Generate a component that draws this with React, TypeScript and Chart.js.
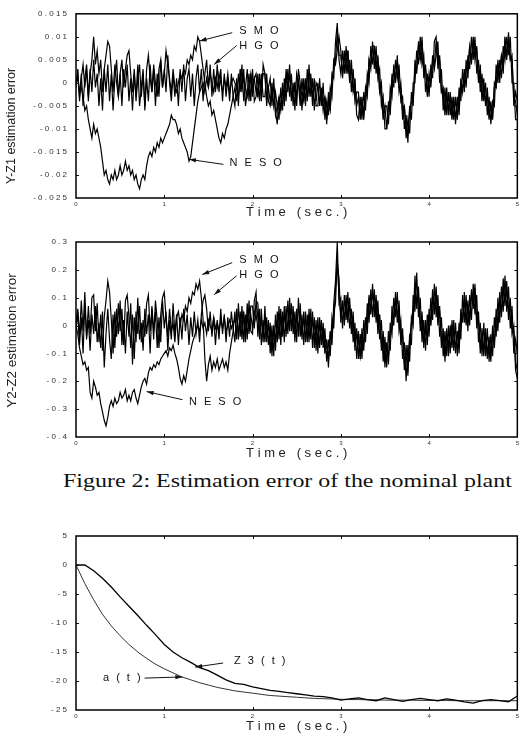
import React, { useEffect, useRef } from "react";
import { Chart, registerables } from "chart.js";

Chart.register(...registerables);

const FONT = "'Liberation Sans', Arial, Helvetica, sans-serif";

// ---------- sampling steps (seconds) ----------
const DT_NOISY = 0.02;
const DT_SMOOTH = 0.1;

// ---------- Plot 1: Y-Z1 estimation error (values in units of 0.001) ----------
const P1_SMO = [
  0, 2, -3, 1, 4, -1, 3, -4, 2, 5,
  10, 4, 7, 2, 5, -2, 3, 6, 9, 8,
  3, -2, 4, 0, -3, 2, 5, -1, 3, 6,
  7, 2, -2, 3, -4, 1, 4, -3, 2, -5,
  3, 6, 1, -2, 4, 0, -3, 3, 5, -1,
  2, 7, 4, 1, -2, 3, -1, -2, 0, 2,
  1, 3, 2, 5, 4, 6, 5, 8, 7, 10,
  9, 6, 3, 0, -3, -5, -4, -7, -6, -8,
  -10, -12, -13, -11, -12, -10, -9, -7, -5, -3,
  -1, -4, 2, -2, 4, -4, -1, 3, -4, 2,
  -3, 1, 2, -3, 2, -4, 4, 2, -5, -1,
  1, -5, 1, -6, -9, -3, -6, 0, -5, 3,
  -2, 4, -4, 0, -6, 2, 0, -5, 1, -4,
  1, -4, 4, -3, 1, -6, 0, -1, -5, -1,
  -6, -3, -9, -2, -6, 2, 1, 9, 13, 5,
  2, 7, 2, 8, 2, 5, -2, 3, -4, -2,
  -2, -8, -3, -8, -1, -3, 5, 3, 9, 3,
  8, 1, 3, -5, -3, -10, -10, -4, -7, 2,
  -1, 5, 1, 4, -4, -3, -10, -7, -13, -5,
  -8, 0, 0, 7, 4, 10, 4, 6, -2, 2,
  -3, 4, 1, 9, 10, 3, 6, -2, -1, -7,
  -1, -7, -2, -8, -3, -9, -3, -7, 1, -2,
  3, -1, 6, 3, 10, 5, 10, 2, 5, -2,
  2, -4, 0, -7, -3, -9, -4, -5, 4, 0,
  5, 1, 8, 5, 10, 6, 10, 0, 0, -8, -8,
];
const P1_HGO = [
  -1, 3, -4, 2, -5, 1, 4, -3, 3, -2,
  5, -1, 2, -5, 1, -6, 3, -2, 4, -4,
  2, -6, 1, 5, -3, 2, -5, 3, -1, 4,
  -4, 1, -6, 2, -3, 4, -5, -1, 3, -6,
  1, -4, 4, -2, 3, -5, 2, -3, 5, -1,
  3, -2, 6, 0, -4, 2, -3, 1, -5, 3,
  -2, 4, -4, 1, 3, -3, 2, -5, 1, 4,
  -2, 3, -4, 2, 5, -1, 4, -3, 3, -2,
  4, -2, 3, -4, 2, -3, 1, -4, 2, -3,
  -5, 1, -5, 3, -2, 3, -5, -2, 2, -4,
  3, -4, -3, 2, -4, 2, -3, -3, 2, -4,
  -5, 0, -5, -2, -5, -8, -1, -6, 1, -4,
  3, -3, 2, -5, 0, -5, 3, 0, -6, 1,
  -5, 3, -3, 2, -5, 1, -5, -5, 1, -5,
  0, -8, -4, -7, -1, -3, 5, 4, 7, 10,
  7, 1, 7, 2, 7, 0, 5, -2, 1, -7,
  -8, -3, -8, -2, -6, 2, 0, 8, 4, 8,
  2, 6, -2, 0, -8, -5, -5, -9, -1, -3,
  4, 0, 6, -2, 0, -8, -5, -12, -8, -11,
  -2, -5, 5, 2, 9, 5, 10, 1, 4, -3,
  2, -1, 6, 3, 6, 9, 0, 3, -6, -1,
  -7, -2, -7, -3, -8, -3, -8, -1, -4, 3,
  -2, 5, 1, 8, 4, 10, 5, 8, 0, 4,
  -4, 1, -5, -1, -8, -4, -8, 0, -1, 5,
  0, 6, 2, 10, 5, 11, 5, 6, -5, -2, -4,
];
const P1_NESO = [
  0, 1, -2, -1, -3, -6, -5, -8, -10, -12,
  -9, -11, -10, -12, -14, -17, -20, -19, -21, -22,
  -20, -21, -19, -21, -20, -18, -20, -19, -17, -19,
  -18, -20, -19, -21, -20, -22, -23, -21, -20, -21,
  -18, -16, -15, -16, -14, -15, -13, -14, -12, -13,
  -12, -11, -10, -9, -7, -8, -8, -9, -11, -10,
  -12, -13, -14, -15, -17, -16, -13, -10, -7, -4,
  -2, -1, 0, -2, 1, -1, 2, 0, -2, 1,
  -1, 2, 0, -2, 1, -1, 2, -2, 0, 1,
  0, -1, -3, 2, -1, 1, -1, -3, -1, 2,
  -1, 1, -2, -3, 1, -1, 2, 2, -3, -1,
  -4, -2, -1, -7, -5, -3, -6, -2, -3, 1,
  -1, 2, -3, -1, 0, -3, 1, -3, -2, -4,
  0, -3, 1, 1, -3, 0, -4, 0, -4, -2,
  -4, -3, -8, -4, -6, 1, 3, 5, 11, 6,
  6, 2, 6, 4, 7, 1, 3, -2, 0, -5,
  -3, -7, -4, -7, -2, -2, 5, 4, 8, 8,
  4, 5, -2, -2, -7, -5, -10, -5, -6, 1,
  2, 1, 5, -1, -1, -6, -5, -10, -11, -6,
  -4, -4, 3, 3, 8, 5, 9, 3, 3, -2,
  1, 0, 5, 4, 9, 5, 5, -2, -2, -6,
  -3, -6, -3, -7, -4, -8, -4, -5, 0, -1,
  0, 3, 3, 8, 5, 9, 6, 7, 1, 2,
  -3, -1, -4, -3, -7, -5, -7, -1, -1, 3,
  2, 6, 4, 9, 6, 9, 5, 5, -3, -4, -7,
];
const P1_Y_TICKS = [15, 10, 5, 0, -5, -10, -15, -20, -25];
const P1_Y_LABELS = [
  "0 . 0 1 5", "0 . 0 1", "0 . 0 0 5", "0", "- 0 . 0 0 5", "- 0 . 0 1", "- 0 . 0 1 5", "- 0 . 0 2", "- 0 . 0 2 5",
];

// ---------- Plot 2: Y2-Z2 estimation error (values in units of 0.01) ----------
const P2_SMO = [
  0, 6, -4, 9, -2, 12, -5, 7, -3, 10,
  11, -2, 8, -6, 4, -9, 3, 9, 16, 12,
  2, -10, 5, -4, 8, -2, 6, -7, 9, 11,
  3, -8, 4, -12, 5, -3, 7, -6, 2, -4,
  8, 11, -2, 6, -5, 9, 2, -8, 4, 10,
  12, 3, -4, 6, -2, 1, -6, 3, 5, 0,
  4, 2, 7, 5, 10, 8, 12, 11, 15, 13,
  16, 10, 2, -12, -20, -14, -11, -16, -13, -15,
  -12, -16, -14, -12, -15, -13, -16, -10, -6, -2,
  5, -5, 8, -4, 7, -6, 4, -5, 9, -2,
  -3, 9, 12, -4, 6, -7, 2, -6, 3, -7,
  1, -11, 0, -9, 5, -5, 6, -4, 7, -4,
  9, -2, 8, -3, 5, -6, 10, -4, 4, -7,
  5, -6, 6, -5, 5, -8, 2, -10, 3, -7,
  1, -10, -5, -15, -2, -7, 8, 16, 30, 8,
  10, -1, 11, 2, 12, -1, 6, -6, 1, -12,
  -2, -12, -1, -9, 3, -3, 11, 4, 15, 3,
  11, -3, 4, -9, -2, -15, -6, -14, 1, -3,
  10, 3, 12, -2, 2, -12, -6, -20, -7, -13,
  3, 0, 18, 6, 14, -2, 5, -8, 2, -7,
  6, 0, 13, 4, 14, 0, 7, -8, -1, -13,
  -1, -11, 0, -8, 2, -10, -2, -10, 6, 1,
  12, 0, 9, 0, 13, 6, 15, -1, 5, -10,
  -1, -11, -1, -12, -4, -13, 0, -8, 6, -2,
  12, 3, 17, 7, 16, 2, 10, -3, 0, -16, -19,
];
const P2_HGO = [
  -2, 5, -7, 3, -10, 8, -4, 2, -9, 4,
  -3, 7, -6, 1, -8, 5, -15, -3, 6, -5,
  -12, 4, -8, 6, -3, 9, -7, 2, -10, 5,
  -4, 8, -14, 3, -6, 10, -5, 1, -9, 6,
  -3, 4, -10, 7, -2, 5, -8, 3, -6, 9,
  -1, 5, -9, 2, -5, 8, -3, 4, -7, 3,
  -5, 6, -2, 4, -7, 3, -4, 5, -3, 2,
  -6, 4, 9, 11, 6, -2, 5, -4, 3, -7,
  2, -5, 6, -3, 4, -6, 3, -4, 5, -1,
  -6, 6, -5, 5, -5, 5, -6, 8, -3, 7,
  7, -1, 9, 8, -5, 6, -6, 7, -6, 2,
  -10, 0, -11, 4, -6, 7, -7, 5, -6, 7,
  -3, 10, -2, 7, -6, 6, -4, 8, -5, 5,
  -6, 4, -6, 6, -8, 3, -9, 3, -8, 2,
  -8, -1, -13, -5, -11, 3, -1, 14, 22, 17,
  1, 9, 0, 11, 1, 10, -3, 5, -9, -1,
  -12, -3, -12, 2, -6, 8, 1, 13, 3, 13,
  1, 9, -5, 2, -13, -4, -15, -2, -9, 7,
  0, 12, 1, 9, -7, -1, -16, -7, -18, -3,
  -7, 11, 5, 19, 3, 10, -6, 2, -9, 4,
  -4, 10, 2, 15, 3, 11, -4, 3, -11, -2,
  -11, 0, -10, 2, -9, 1, -11, 1, -5, 11,
  1, 11, -2, 11, 2, 15, 4, 11, -6, 1,
  -11, 1, -11, -1, -13, -3, -11, 3, -4, 10,
  1, 14, 5, 18, 5, 14, -1, 7, -10, -5, -10,
];
const P2_NESO = [
  0, -3, -8, -11, -14, -13, -16, -15, -24, -26,
  -20, -22, -25, -24, -28, -31, -34, -36, -33, -29,
  -27, -29, -26, -28, -27, -24, -26, -25, -23, -27,
  -25, -27, -24, -23, -26, -28, -25, -22, -20, -19,
  -21, -17, -15, -16, -14, -15, -13, -14, -12, -11,
  -10, -9, -11, -8, -9, -7, -10, -12, -15, -19,
  -21, -18, -20, -16, -12, -9, -6, -4, -2, 0,
  -2, 2, -1, 1, -3, 2, 0, -2, 3, -1,
  1, -2, 2, -1, 3, -2, 0, 2, -1, 1,
  2, -2, -2, 3, 0, 4, -3, 3, -1, 4,
  -1, 5, 2, 5, -2, 2, -4, 3, -4, 0,
  -2, -8, -1, -5, 1, -3, 2, -2, 4, -1,
  -1, 5, 0, 4, -3, 3, -1, 4, -2, 2,
  2, -4, 2, -2, 2, -5, -1, -5, 1, -5,
  -2, -9, -6, -12, -3, -4, 5, 8, 24, 10,
  4, 7, 3, 8, 4, 7, 0, 2, -6, -3,
  -5, -11, -5, -6, 2, 1, 9, 6, 12, 6,
  9, 1, 3, -6, -5, -12, -8, -11, -2, -1,
  3, 10, 4, 6, -5, -4, -13, -11, -15, -5,
  1, 3, 13, 9, 11, 1, 2, -6, -2, -4,
  3, 1, 9, 7, 12, 4, 5, -5, -3, -10,
  -3, -7, -1, -6, -2, -8, -3, -6, 4, 3,
  9, 2, 6, 3, 11, 8, 12, 2, 2, -7,
  -4, -8, -4, -10, -5, -10, -4, -6, 3, 2,
  8, 5, 13, 9, 13, 6, 8, -1, -2, -13, -16,
];
const P2_Y_TICKS = [30, 20, 10, 0, -10, -20, -30, -40];
const P2_Y_LABELS = ["0 . 3", "0 . 2", "0 . 1", "0", "- 0 . 1", "- 0 . 2", "- 0 . 3", "- 0 . 4"];

// ---------- Plot 3: Z3(t) and a(t) ----------
const P3_Z3 = [
  0, 0, -1, -2.3, -3.8, -5.5, -7.1, -8.7, -10.4, -12, -13.7, -15, -16, -16.8, -17.7, -18.2, -19, -19.8, -20.4, -20.6,
  -21, -21.3, -21.6, -21.8, -22, -22.2, -22.4, -22.6, -22.7, -22.9, -23.3, -23.1, -22.9, -23.2, -23.4, -22.9, -23.2,
  -23.5, -23.2, -23, -23.2, -23.4, -23.1, -23.3, -23.6, -23.8, -23.4, -23.2, -23.4, -23.6, -22.6,
];
const P3_A = [
  0, -3.2, -6, -8.5, -10.5, -12.2, -13.7, -15, -16.1, -17.1, -17.9, -18.6, -19.3, -19.8, -20.3, -20.7, -21.1, -21.4,
  -21.7, -21.9, -22.1, -22.3, -22.5, -22.6, -22.7, -22.8, -22.9, -23, -23.05, -23.1, -23.15, -23.2, -23.2, -23.25,
  -23.25, -23.3, -23.3, -23.3, -23.3, -23.35, -23.35, -23.35, -23.35, -23.4, -23.4, -23.4, -23.4, -23.4, -23.4, -23.4, -23.4,
];
const P3_Y_TICKS = [5, 0, -5, -10, -15, -20, -25];
const P3_Y_LABELS = ["5", "0", "- 5", "- 1 0", "- 1 5", "- 2 0", "- 2 5"];

// ---------- shared x axis ----------
const X_TICKS = [0, 1, 2, 3, 4, 5];
const X_TICK_LABELS = ["0", "1", "2", "3", "4", "5"];
const X_TITLE = "T i m e   ( s e c . )";
const CAPTION = "Figure 2: Estimation error of the nominal plant";

type Arrow = { text: string; label: [number, number]; from: [number, number]; to: [number, number]; align: "left" | "right" };

const P1_ARROWS: Arrow[] = [
  { text: "S M O", label: [1.85, 11.3], from: [1.77, 10.9], to: [1.4, 9.1], align: "left" },
  { text: "H G O", label: [1.85, 8.1], from: [1.82, 8.1], to: [1.565, 4.0], align: "left" },
  { text: "N E S O", label: [1.74, -17.4], from: [1.67, -17.7], to: [1.28, -16.6], align: "left" },
];
const P2_ARROWS: Arrow[] = [
  { text: "S M O", label: [1.85, 23.7], from: [1.77, 22.6], to: [1.43, 18.3], align: "left" },
  { text: "H G O", label: [1.85, 18.3], from: [1.82, 17.9], to: [1.565, 11.1], align: "left" },
  { text: "N E S O", label: [1.28, -27.3], from: [1.205, -26.6], to: [0.8, -23.7], align: "left" },
];
const P3_ARROWS: Arrow[] = [
  { text: "Z 3 ( t )", label: [1.79, -16.6], from: [1.667, -16.9], to: [1.35, -17.6], align: "left" },
  { text: "a ( t )", label: [0.755, -19.5], from: [0.777, -19.5], to: [1.205, -19.3], align: "right" },
];

function toXY(values: number[], dt: number) {
  return values.map((y, i) => ({ x: Math.round(i * dt * 1000) / 1000, y }));
}

const framePlugin = {
  id: "frameTicks",
  afterDatasetsDraw(chart: any) {
    const { ctx, chartArea, scales } = chart;
    const { left, top, right, bottom } = chartArea;
    const xs = scales.x;
    const ys = scales.y;
    ctx.save();
    ctx.strokeStyle = "#111";
    ctx.lineWidth = 1;
    ctx.beginPath();
    xs.ticks.forEach((t: any) => {
      if (t.value <= xs.min || t.value >= xs.max) return;
      const px = Math.round(xs.getPixelForValue(t.value)) + 0.5;
      ctx.moveTo(px, bottom);
      ctx.lineTo(px, bottom - 3);
      ctx.moveTo(px, top);
      ctx.lineTo(px, top + 3);
    });
    ys.ticks.forEach((t: any) => {
      if (t.value <= ys.min || t.value >= ys.max) return;
      const py = Math.round(ys.getPixelForValue(t.value)) + 0.5;
      ctx.moveTo(right, py);
      ctx.lineTo(right - 3, py);
      ctx.moveTo(left, py);
      ctx.lineTo(left + 3, py);
    });
    ctx.stroke();
    ctx.strokeStyle = "#000";
    ctx.lineWidth = 1.5;
    ctx.strokeRect(left, top, right - left, bottom - top);
    ctx.restore();
  },
};

// vertical axis title, drawn beside the left axis
const yTitlePlugin = {
  id: "yTitle",
  afterDraw(chart: any, _args: any, opts: any) {
    if (!opts || !opts.text) return;
    const { ctx, chartArea } = chart;
    const cy = (chartArea.top + chartArea.bottom) / 2 + (opts.shift || 0);
    ctx.save();
    ctx.translate(opts.x, cy);
    ctx.rotate(-Math.PI / 2);
    ctx.font = `${opts.size}px ${FONT}`;
    ctx.fillStyle = "#222";
    ctx.textAlign = "center";
    ctx.textBaseline = "middle";
    ctx.fillText(opts.text, 0, 0);
    ctx.restore();
  },
};

const arrowPlugin = {
  id: "arrowLabels",
  afterDatasetsDraw(chart: any, _args: any, opts: any) {
    const items: Arrow[] = (opts && opts.items) || [];
    const { ctx, scales } = chart;
    const xs = scales.x;
    const ys = scales.y;
    ctx.save();
    ctx.font = `11px ${FONT}`;
    ctx.fillStyle = "#111";
    ctx.strokeStyle = "#111";
    ctx.lineWidth = 1;
    (ctx as any).letterSpacing = "2px";
    items.forEach((it) => {
      const sx = xs.getPixelForValue(it.from[0]);
      const sy = ys.getPixelForValue(it.from[1]);
      const tx = xs.getPixelForValue(it.to[0]);
      const ty = ys.getPixelForValue(it.to[1]);
      ctx.beginPath();
      ctx.moveTo(sx, sy);
      ctx.lineTo(tx, ty);
      ctx.stroke();
      const a = Math.atan2(ty - sy, tx - sx);
      const L = 7;
      const W = 2.2;
      const c = Math.cos(a);
      const s = Math.sin(a);
      ctx.beginPath();
      ctx.moveTo(tx, ty);
      ctx.lineTo(tx - L * c + W * s, ty - L * s - W * c);
      ctx.lineTo(tx - L * c - W * s, ty - L * s + W * c);
      ctx.closePath();
      ctx.fill();
      const lx = xs.getPixelForValue(it.label[0]);
      const ly = ys.getPixelForValue(it.label[1]);
      ctx.textAlign = it.align;
      ctx.textBaseline = "middle";
      ctx.fillText(it.text, lx, ly);
    });
    ctx.restore();
  },
};

type Series = { name: string; values: number[]; color: string; width: number };
type Spec = {
  series: Series[];
  dt: number;
  yMin: number;
  yMax: number;
  yTicks: number[];
  yLabels: string[];
  yTitle: string;
  yTitleSize: number;
  yTitleShift: number;
  padTop: number;
  xH: number;
  xTitlePad: number;
  arrows: Arrow[];
};

function buildConfig(p: Spec): any {
  return {
    type: "line",
    data: {
      datasets: p.series.map((s) => ({
        label: s.name,
        data: toXY(s.values, p.dt),
        borderColor: s.color,
        borderWidth: s.width,
        pointRadius: 0,
        tension: 0,
        fill: false,
      })),
    },
    options: {
      animation: false,
      responsive: false,
      events: [],
      layout: { padding: { top: p.padTop, right: 2, left: 0, bottom: 0 } },
      plugins: {
        legend: { display: false },
        tooltip: { enabled: false },
        arrowLabels: { items: p.arrows },
        yTitle: { text: p.yTitle, size: p.yTitleSize, shift: p.yTitleShift, x: 12 },
      },
      scales: {
        x: {
          type: "linear",
          min: 0,
          max: 5,
          afterFit: (s: any) => {
            s.height = p.xH;
          },
          afterBuildTicks: (s: any) => {
            s.ticks = X_TICKS.map((v) => ({ value: v }));
          },
          ticks: {
            autoSkip: false,
            maxRotation: 0,
            padding: 3,
            color: "#333",
            font: { size: 6, family: FONT },
            callback: (v: number) => X_TICK_LABELS[X_TICKS.indexOf(v)] ?? "",
          },
          grid: { display: false, drawTicks: false },
          border: { display: false },
          title: {
            display: true,
            text: X_TITLE,
            color: "#222",
            font: { size: 13, family: FONT },
            padding: { top: 0, bottom: p.xTitlePad },
          },
        },
        y: {
          type: "linear",
          min: p.yMin,
          max: p.yMax,
          afterFit: (s: any) => {
            s.width = 76;
          },
          afterBuildTicks: (s: any) => {
            s.ticks = p.yTicks.map((v) => ({ value: v }));
          },
          ticks: {
            autoSkip: false,
            padding: 9,
            color: "#333",
            font: { size: 8, family: FONT },
            callback: (v: number) => p.yLabels[p.yTicks.indexOf(v)] ?? "",
          },
          grid: { display: false, drawTicks: false },
          border: { display: false },
        },
      },
    },
    plugins: [framePlugin, arrowPlugin, yTitlePlugin],
  };
}

function Plot({ spec, top, height }: { spec: Spec; top: number; height: number }) {
  const ref = useRef<HTMLCanvasElement>(null);
  useEffect(() => {
    const chart = new Chart(ref.current as HTMLCanvasElement, buildConfig(spec));
    return () => chart.destroy();
  }, []);
  return (
    <canvas
      ref={ref}
      width={522}
      height={height}
      style={{ position: "absolute", left: 0, top, width: 522, height, display: "block" }}
    />
  );
}

const SPEC1: Spec = {
  series: [
    { name: "SMO", values: P1_SMO, color: "#000", width: 1.2 },
    { name: "HGO", values: P1_HGO, color: "#000", width: 1.2 },
    { name: "NESO", values: P1_NESO, color: "#000", width: 1.2 },
  ],
  dt: DT_NOISY,
  yMin: -25,
  yMax: 15,
  yTicks: P1_Y_TICKS,
  yLabels: P1_Y_LABELS,
  yTitle: "Y-Z1 estimation error",
  yTitleSize: 12.5,
  yTitleShift: 20,
  padTop: 10,
  xH: 24,
  xTitlePad: 2,
  arrows: P1_ARROWS,
};

const SPEC2: Spec = {
  series: [
    { name: "SMO", values: P2_SMO, color: "#000", width: 1.2 },
    { name: "HGO", values: P2_HGO, color: "#000", width: 1.2 },
    { name: "NESO", values: P2_NESO, color: "#000", width: 1.2 },
  ],
  dt: DT_NOISY,
  yMin: -40,
  yMax: 30,
  yTicks: P2_Y_TICKS,
  yLabels: P2_Y_LABELS,
  yTitle: "Y2-Z2 estimation error",
  yTitleSize: 13.5,
  yTitleShift: 1,
  padTop: 16,
  xH: 25,
  xTitlePad: 1,
  arrows: P2_ARROWS,
};

const SPEC3: Spec = {
  series: [
    { name: "Z3(t)", values: P3_Z3, color: "#000", width: 1.3 },
    { name: "a(t)", values: P3_A, color: "#333", width: 1 },
  ],
  dt: DT_SMOOTH,
  yMin: -25,
  yMax: 5,
  yTicks: P3_Y_TICKS,
  yLabels: P3_Y_LABELS,
  yTitle: "",
  yTitleSize: 12,
  yTitleShift: 0,
  padTop: 16,
  xH: 24,
  xTitlePad: 0,
  arrows: P3_ARROWS,
};

export default function App() {
  return (
    <div
      style={{
        position: "absolute",
        left: 0,
        top: 0,
        width: 519,
        height: 734,
        overflow: "hidden",
        background: "#fff",
      }}
    >
      <Plot spec={SPEC1} top={0} height={222} />
      <Plot spec={SPEC2} top={226} height={236} />
      <div
        style={{
          position: "absolute",
          left: 63,
          top: 472,
          fontFamily: "'Liberation Serif', 'Times New Roman', serif",
          fontSize: 18,
          lineHeight: "18px",
          whiteSpace: "nowrap",
          transform: "scaleX(1.33)",
          transformOrigin: "left top",
          color: "#111",
        }}
      >
        {CAPTION}
      </div>
      <Plot spec={SPEC3} top={520} height={214} />
    </div>
  );
}
